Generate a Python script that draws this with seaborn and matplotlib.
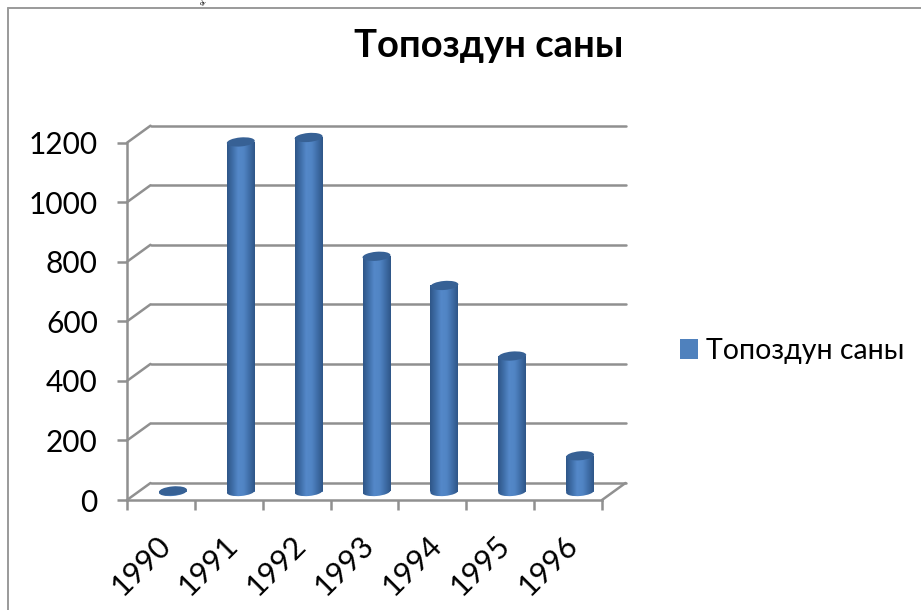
import numpy as np
import matplotlib
matplotlib.use('Agg')
import matplotlib.pyplot as plt
import seaborn as sns
from matplotlib.colors import LinearSegmentedColormap
from matplotlib.lines import Line2D
from matplotlib.patches import Ellipse
from matplotlib.transforms import Affine2D, ScaledTranslation

years = ['1990', '1991', '1992', '1993', '1994', '1995', '1996']
counts = [2, 1174, 1189, 790, 692, 455, 120]
y_ticks = [0, 200, 400, 600, 800, 1000, 1200]
title = 'Топоздун саны'

W, H = 921, 610
GRAY = '#909090'
LW = 1.8

sns.set_theme(style='white')
plt.rcParams['font.family'] = ['Lato', 'Open Sans', 'DejaVu Sans']

fig = plt.figure(figsize=(W / 100, H / 100), dpi=100, facecolor='white')


def axes_box(left, right, top, bottom):
    return [left / W, 1 - bottom / H, (right - left) / W, (bottom - top) / H]


# front plane holds the axes, ticks and the grid that runs to the back wall
ax = fig.add_axes(axes_box(127, 602, 142.7, 500), zorder=1)
ax.set_xlim(-0.5, 6.5)
ax.set_ylim(0, 1200)
for side in ['top', 'right']:
    ax.spines[side].set_visible(False)
for side in ['left', 'bottom']:
    ax.spines[side].set_color(GRAY)
    ax.spines[side].set_linewidth(LW)
ax.set_yticks(y_ticks)
ax.tick_params(axis='y', left=True, length=7, width=LW, color=GRAY, pad=14,
               labelsize=21.5, labelcolor='black')
ax.set_xticks(np.arange(-0.5, 7, 1))
ax.set_xticklabels([])
ax.set_xticks(np.arange(7), labels=years, minor=True)
ax.tick_params(axis='x', which='major', bottom=True, length=7, width=LW, color=GRAY)
ax.tick_params(axis='x', which='minor', bottom=False, length=0, pad=22,
               labelsize=22, labelcolor='black')
for lab in ax.get_xticklabels(minor=True):
    lab.set_rotation(45)
    lab.set_ha('right')
    lab.set_va('top')
    lab.set_rotation_mode('anchor')
    lab.set_transform(lab.get_transform() + Affine2D().translate(-5, 0))

back = ax.transData + Affine2D().translate(23.5, 17)
for v in y_ticks:
    ax.plot([-0.5, 6.5], [v, v], transform=back, color=GRAY, lw=LW, clip_on=False)
    # connector from the front axis to the back wall
    p0 = ax.transData.transform((-0.5, v))
    ax.plot([p0[0], p0[0] + 23.5], [p0[1], p0[1] + 17], transform=None,
            color=GRAY, lw=LW, clip_on=False)
p1 = ax.transData.transform((6.5, 0))
ax.plot([p1[0], p1[0] + 23.5], [p1[1], p1[1] + 17], transform=None,
        color=GRAY, lw=LW, clip_on=False)

# bars sit halfway between the front plane and the back wall
ax_bar = fig.add_axes(axes_box(139, 614, 134.2, 491.5), zorder=2)
sns.barplot(x=years, y=counts, color='#4f81bd', saturation=1, width=0.41,
            linewidth=0, label=title, ax=ax_bar)
ax_bar.set_xlim(-0.5, 6.5)
ax_bar.set_ylim(0, 1200)
ax_bar.set_yticks([])
ax_bar.axis('off')

shade = LinearSegmentedColormap.from_list(
    'cyl', ['#2f5688', '#3f6ea8', '#5488c9', '#5185c4', '#3f6ea8', '#2f5688'])
grad = np.linspace(0, 1, 64).reshape(1, -1)
px_y = 1200 / 357.3
ell_w, ell_h = 28, 9

for patch, value in zip(ax_bar.patches, counts):
    x0, w = patch.get_x(), patch.get_width()
    cx = x0 + w / 2
    pos = Affine2D() + ScaledTranslation(cx, 0, ax_bar.transData)
    low = Ellipse((0, 0), ell_w, ell_h, angle=5, transform=pos, fc='none', ec='none',
                  clip_on=False)
    ax_bar.add_patch(low)
    im = ax_bar.imshow(grad, cmap=shade, aspect='auto', zorder=3,
                       extent=[x0, x0 + w, -8 * px_y, value])
    im.set_clip_box(fig.bbox)
    im.set_clip_path(patch)
    im2 = ax_bar.imshow(grad, cmap=shade, aspect='auto', zorder=3,
                        extent=[x0, x0 + w, -8 * px_y, 8 * px_y])
    im2.set_clip_box(fig.bbox)
    im2.set_clip_path(low)
    pos_top = Affine2D() + ScaledTranslation(cx, value, ax_bar.transData)
    ax_bar.add_patch(Ellipse((0, 0), ell_w, ell_h, angle=5, transform=pos_top,
                             fc='#376195', ec='none', zorder=4, clip_on=False))

ax_bar.set_xlim(-0.5, 6.5)
ax_bar.set_ylim(0, 1200)

ax_bar.legend(loc='center left', bbox_to_anchor=(680 / W, 1 - 351 / H),
              bbox_transform=fig.transFigure, frameon=False, fontsize=20.5,
              handlelength=0.63, handleheight=0.75, handletextpad=0.28,
              borderpad=0, borderaxespad=0, labelcolor='black')

fig.text(489 / W, 1 - 46 / H, title, ha='center', va='center',
         fontsize=27.5, fontweight='bold', color='black')

# frame of the pasted picture
fig.add_artist(Line2D([8 / W, 8 / W], [0, 1 - 8 / H], color='#9a9a9a', lw=1.4))
fig.add_artist(Line2D([8 / W, 1], [1 - 8 / H, 1 - 8 / H], color='#9a9a9a', lw=1.4))
# scrap of the line of text above the picture
fig.text(203 / W, 1 - 5 / H, 'ду', family='Liberation Serif', style='italic',
         fontsize=5, ha='center', va='baseline', color='black')

fig.savefig('out.png', dpi=100)
